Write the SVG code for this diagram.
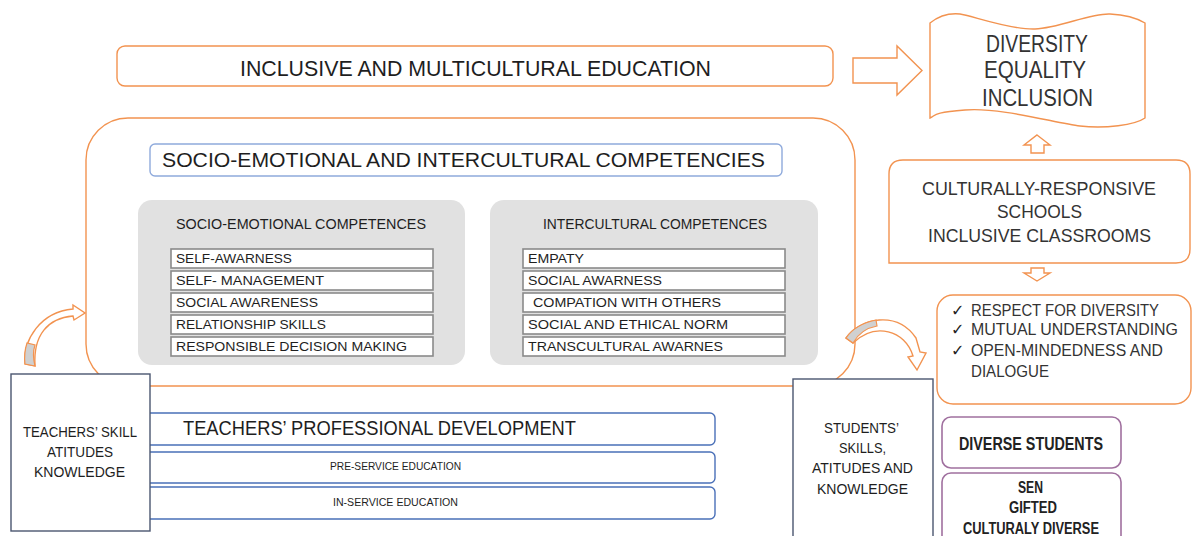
<svg xmlns="http://www.w3.org/2000/svg" width="1193" height="536" viewBox="0 0 1193 536">
<style>
text{font-family:"Liberation Sans",Arial,sans-serif;fill:#1e1e1e}
.or{fill:#fff;stroke:#F29350;stroke-width:1.4}
.blue{fill:#fff;stroke:#4A70B8;stroke-width:1.4}
.slate{fill:#fff;stroke:#4A5670;stroke-width:1.4}
.purp{fill:#fff;stroke:#A0709F;stroke-width:1.6}
.panel{fill:#E1E1E1}
.item{fill:#fff;stroke:#8A8A8A;stroke-width:1.6}
.grey{fill:#D0D0D0;stroke:#F29350;stroke-width:1.2}
.it{font-size:13.5px}
.r{fill:#333}
.b{font-weight:bold;fill:#222}
.ck{font-family:"DejaVu Sans",sans-serif;font-size:16px;fill:#222}
</style>

<g id="big-frame">
<rect class="or" x="86" y="118" width="769" height="268" rx="42"/>
</g>

<g id="banner">
<rect class="or" x="117" y="46" width="716" height="40" rx="8"/>
<text x="240" y="76" font-size="22" textLength="471" lengthAdjust="spacingAndGlyphs">INCLUSIVE AND MULTICULTURAL EDUCATION</text>
</g>

<g id="diversity">
<path class="or" d="M930,23 C940,15 950,13 960,14 S1010,30 1035,29 S1090,13 1110,14 S1140,20 1145,23 L1145,118 C1135,125 1105,129 1080,126 S1000,107 965,110 S937,115 930,118 Z"/>
<text class="r" x="986" y="52" font-size="23" textLength="102" lengthAdjust="spacingAndGlyphs">DIVERSITY</text>
<text class="r" x="984" y="78" font-size="23" textLength="102" lengthAdjust="spacingAndGlyphs">EQUALITY</text>
<text class="r" x="982" y="106" font-size="23" textLength="111" lengthAdjust="spacingAndGlyphs">INCLUSION</text>
</g>

<g id="schools">
<path class="or" d="M903,160 L1176,160 Q1190,160 1190,174 L1190,249 Q1190,263 1176,263 L889,263 L889,174 Q889,160 903,160 Z"/>
<text class="r" x="922" y="195" font-size="19" textLength="234" lengthAdjust="spacingAndGlyphs">CULTURALLY-RESPONSIVE</text>
<text class="r" x="997" y="218" font-size="19" textLength="85" lengthAdjust="spacingAndGlyphs">SCHOOLS</text>
<text class="r" x="928" y="242" font-size="19" textLength="223" lengthAdjust="spacingAndGlyphs">INCLUSIVE CLASSROOMS</text>
</g>

<g id="outcomes">
<rect class="or" x="937" y="295" width="254" height="109" rx="16"/>
<text class="ck" x="951" y="316">✓</text>
<text class="ck" x="951" y="335">✓</text>
<text class="ck" x="951" y="356">✓</text>
<text class="r" x="971" y="316" font-size="16.5" textLength="188" lengthAdjust="spacingAndGlyphs">RESPECT FOR DIVERSITY</text>
<text class="r" x="971" y="335" font-size="16.5" textLength="207" lengthAdjust="spacingAndGlyphs">MUTUAL UNDERSTANDING</text>
<text class="r" x="971" y="356" font-size="16.5" textLength="192" lengthAdjust="spacingAndGlyphs">OPEN-MINDEDNESS AND</text>
<text class="r" x="971" y="377" font-size="16.5" textLength="78" lengthAdjust="spacingAndGlyphs">DIALOGUE</text>
</g>

<g id="diverse-students">
<rect class="purp" x="942" y="417" width="179" height="51" rx="9"/>
<text class="b" x="959" y="450" font-size="17.5" textLength="144" lengthAdjust="spacingAndGlyphs">DIVERSE  STUDENTS</text>
</g>

<g id="student-groups">
<rect class="purp" x="942" y="473" width="179" height="75" rx="9"/>
<text class="b" x="1018" y="493" font-size="16" textLength="25" lengthAdjust="spacingAndGlyphs">SEN</text>
<text class="b" x="1009" y="513" font-size="16" textLength="48" lengthAdjust="spacingAndGlyphs">GIFTED</text>
<text class="b" x="963" y="534" font-size="16" textLength="136" lengthAdjust="spacingAndGlyphs">CULTURALY DIVERSE</text>
</g>

<g id="competencies-title">
<rect x="150" y="144" width="632" height="32" rx="5" fill="#fff" stroke="#8FAADC" stroke-width="1.4"/>
<text x="162" y="167" font-size="20" textLength="603" lengthAdjust="spacingAndGlyphs">SOCIO-EMOTIONAL AND INTERCULTURAL COMPETENCIES</text>
</g>

<g id="socio-emotional">
<rect class="panel" x="138" y="200" width="327" height="165" rx="14"/>
<text x="176" y="229" font-size="14" textLength="250" lengthAdjust="spacingAndGlyphs">SOCIO-EMOTIONAL COMPETENCES</text>
<rect class="item" x="171" y="249" width="262" height="19"/>
<rect class="item" x="171" y="271" width="262" height="19"/>
<rect class="item" x="171" y="293" width="262" height="19"/>
<rect class="item" x="171" y="315" width="262" height="19"/>
<rect class="item" x="171" y="337" width="262" height="19"/>
<text class="it" x="176" y="263" textLength="116" lengthAdjust="spacingAndGlyphs">SELF-AWARNESS</text>
<text class="it" x="176" y="285" textLength="148" lengthAdjust="spacingAndGlyphs">SELF- MANAGEMENT</text>
<text class="it" x="176" y="307" textLength="142" lengthAdjust="spacingAndGlyphs">SOCIAL AWARENESS</text>
<text class="it" x="176" y="329" textLength="150" lengthAdjust="spacingAndGlyphs">RELATIONSHIP SKILLS</text>
<text class="it" x="176" y="351" textLength="231" lengthAdjust="spacingAndGlyphs">RESPONSIBLE DECISION MAKING</text>
</g>

<g id="intercultural">
<rect class="panel" x="490" y="200" width="328" height="165" rx="14"/>
<text x="543" y="229" font-size="14" textLength="224" lengthAdjust="spacingAndGlyphs">INTERCULTURAL COMPETENCES</text>
<rect class="item" x="523" y="249" width="262" height="19"/>
<rect class="item" x="523" y="271" width="262" height="19"/>
<rect class="item" x="523" y="293" width="262" height="19"/>
<rect class="item" x="523" y="315" width="262" height="19"/>
<rect class="item" x="523" y="337" width="262" height="19"/>
<text class="it" x="528" y="263" textLength="56" lengthAdjust="spacingAndGlyphs">EMPATY</text>
<text class="it" x="528" y="285" textLength="134" lengthAdjust="spacingAndGlyphs">SOCIAL AWARNESS</text>
<text class="it" x="533" y="307" textLength="188" lengthAdjust="spacingAndGlyphs">COMPATION WITH OTHERS</text>
<text class="it" x="528" y="329" textLength="200" lengthAdjust="spacingAndGlyphs">SOCIAL AND ETHICAL NORM</text>
<text class="it" x="528" y="351" textLength="195" lengthAdjust="spacingAndGlyphs">TRANSCULTURAL AWARNES</text>
</g>

<g id="professional-development">
<rect class="blue" x="130" y="413" width="585" height="32" rx="5"/>
<rect class="blue" x="130" y="452" width="585" height="31" rx="5"/>
<rect class="blue" x="130" y="487" width="585" height="32" rx="5"/>
<text x="183" y="435" font-size="20" textLength="393" lengthAdjust="spacingAndGlyphs">TEACHERS’ PROFESSIONAL DEVELOPMENT</text>
<text x="330" y="470" font-size="10.5" textLength="131" lengthAdjust="spacingAndGlyphs">PRE-SERVICE EDUCATION</text>
<text x="333" y="506" font-size="10.5" textLength="125" lengthAdjust="spacingAndGlyphs">IN-SERVICE EDUCATION</text>
</g>

<g id="teachers">
<rect class="slate" x="11" y="374" width="139" height="157"/>
<text x="23" y="437" font-size="14.5" textLength="114" lengthAdjust="spacingAndGlyphs">TEACHERS’ SKILL</text>
<text x="47" y="457" font-size="14.5" textLength="66" lengthAdjust="spacingAndGlyphs">ATITUDES</text>
<text x="34" y="477" font-size="14.5" textLength="91" lengthAdjust="spacingAndGlyphs">KNOWLEDGE</text>
</g>

<g id="students">
<rect class="slate" x="793" y="379" width="140" height="170"/>
<text x="824" y="433" font-size="14.5" textLength="75" lengthAdjust="spacingAndGlyphs">STUDENTS’</text>
<text x="839" y="453" font-size="14.5" textLength="47" lengthAdjust="spacingAndGlyphs">SKILLS,</text>
<text x="812" y="473" font-size="14.5" textLength="101" lengthAdjust="spacingAndGlyphs">ATITUDES AND</text>
<text x="817" y="494" font-size="14.5" textLength="91" lengthAdjust="spacingAndGlyphs">KNOWLEDGE</text>
</g>

<g id="connectors">
<path class="or" d="M853,58 L897,58 L897,46 L922,70.5 L897,95 L897,83 L853,83 Z"/>
<path class="or" d="M1037,135 L1050,145 L1044,145 L1044,153 L1031,153 L1031,145 L1024,145 Z"/>
<path class="or" d="M1031,268 L1044,268 L1044,273 L1050,273 L1037,281 L1024,273 L1031,273 Z"/>
<path class="or" d="M25,364 C23,340 40,312 73,309 L73,305 L85,313 L74,320 L73,316 C48,318 33,335 35,366 Z"/>
<path class="grey" d="M25,364 C24,356 25,349 27,343 L35,345 C33,351 33,358 35,366 Z"/>
<path class="or" d="M846,338 C860,318 897,310 916,338 L920,352 L926,353 L917,370 L908,357 L913,356 C905,330 875,322 853,343 Z"/>
<path class="grey" d="M846,338 C852,329 862,323 876,320 L877,326 C866,328 858,334 853,343 Z"/>
</g>
</svg>
